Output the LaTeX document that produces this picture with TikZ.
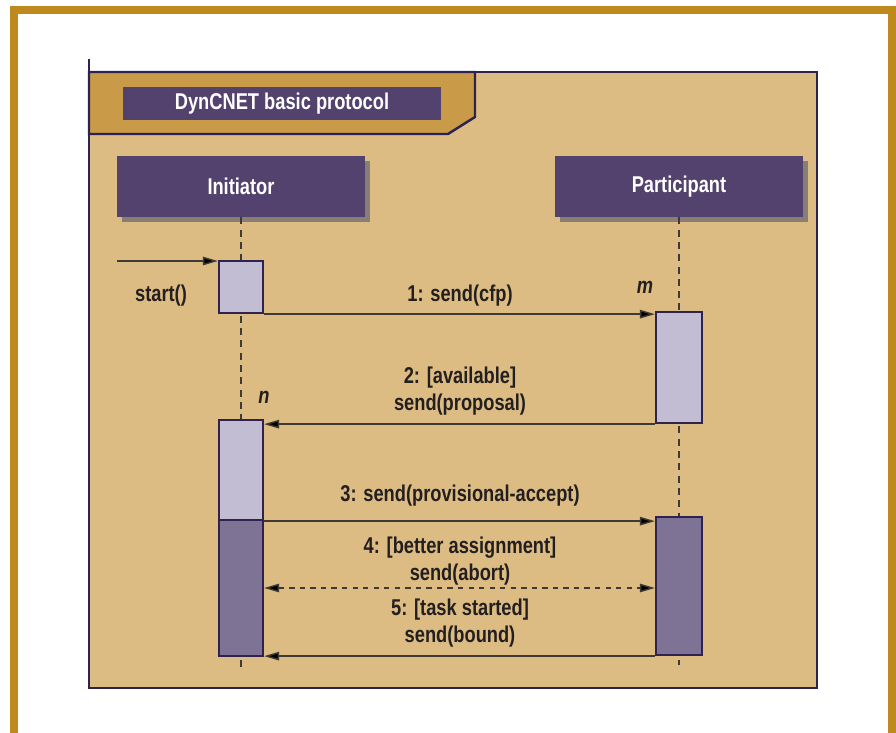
\documentclass[tikz,border=0pt]{standalone}
\usepackage{fontspec}
\setmainfont{Liberation Sans}[FakeStretch=0.8]
\usetikzlibrary{arrows.meta, positioning, shadows}
\definecolor{gold}{HTML}{BE8A1E}
\definecolor{sand}{HTML}{DCBC82}
\definecolor{tab}{HTML}{C99B48}
\definecolor{plum}{HTML}{52426D}
\definecolor{edge}{HTML}{2E2250}
\definecolor{shade}{HTML}{877E75}
\definecolor{lite}{HTML}{C3BDD3}
\definecolor{dark}{HTML}{7E7295}
\definecolor{ink}{HTML}{231F20}
\definecolor{wire}{HTML}{3E3A36}

\begin{document}
\begin{tikzpicture}[x=0.02cm, y=-0.02cm,
          head/.style={fill=plum, text=white, font=\bfseries\fontsize{13}{15}\selectfont,
            minimum width=4.96cm, minimum height=1.22cm, inner sep=0pt,
            drop shadow={shadow xshift=0.1cm, shadow yshift=-0.1cm, fill=shade, opacity=1}},
          act/.style={draw=edge, line width=1.3pt, minimum width=0.88cm, inner sep=0pt},
          lbl/.style={text=ink, font=\bfseries\fontsize{13}{15}\selectfont, align=center, inner sep=1pt},
          life/.style={wire, line width=0.8pt, dash pattern=on 4pt off 3pt},
          tip/.style={Triangle[length=3mm, width=1.7mm, fill=black]},
          ar/.style={wire, line width=0.8pt, -{Triangle[length=3mm, width=1.7mm, fill=black]}}
        ]
        \useasboundingbox (0,0) rectangle (896,733);
        \fill[white] (0,0) rectangle (896,733);
        \draw[gold, line width=8*0.02cm] (14,733) -- (14,10) -- (892,10) -- (892,733);

        \draw[edge, line width=1.4pt, fill=sand] (89,72) rectangle (817,688);
        \draw[edge, line width=1.4pt] (89,59) -- (89,72);
        \draw[edge, line width=1.4pt, fill=tab] (89,72) -- (475,72) -- (475,117) -- (448,134) -- (89,134) -- cycle;
        \node[fill=plum, text=white, font=\bfseries\fontsize{13}{15}\selectfont,
          minimum width=6.38cm, minimum height=0.66cm, inner sep=0pt] (title) at (282,103.5) {DynCNET basic protocol};

        \node[head] (ini) at (241,186.5) {Initiator};
        \node[head] (par) at (679,186.5) {Participant};
        \coordinate (iniend) at (241,672);
        \coordinate (parend) at (679,665);
        \draw[life] (ini.south) -- (iniend);
        \draw[life] (par.south) -- (parend);

        \node[act, fill=lite, minimum height=1.04cm] (s1) at (241,287) {};
        \node[act, fill=lite, minimum width=0.92cm, minimum height=2.22cm] (p1) at (679,367.5) {};
        \node[act, fill=lite, minimum height=2.0cm] (i2) at (241,470) {};
        \node[act, fill=dark, minimum height=2.72cm] (i3) at (241,588) {};
        \node[act, fill=dark, minimum width=0.92cm, minimum height=2.76cm] (p2) at (679,586) {};

        \coordinate (in) at (117,261);
        \draw[ar] (in) -- (in -| s1.west);
        \draw[ar] (s1.south east) -- (s1.south east -| p1.west);
        \draw[ar] (p1.south west) -- (p1.south west -| i2.east);
        \draw[ar] (i2.south east) -- (i2.south east -| p2.west);
        \draw[wire, line width=0.8pt, dashed, {Triangle[length=3mm, width=1.7mm, fill=black]}-{Triangle[length=3mm, width=1.7mm, fill=black]}] (i3.east) -- (i3.east -| p2.west);
        \draw[ar] (p2.south west) -- (p2.south west -| i3.east);

        \node[lbl] (start) at (161,296) {start()};
        \node[lbl] (m1) at (460,296) {1: send(cfp)};
        \node[lbl] (m2) at (460,391) {2: [available]\\send(proposal)};
        \node[lbl] (m3) at (460,496) {3: send(provisional-accept)};
        \node[lbl] (m4) at (460,561) {4: [better assignment]\\send(abort)};
        \node[lbl] (m5) at (460,623) {5: [task started]\\send(bound)};
        \node[lbl, font=\bfseries\itshape\fontsize{13}{15}\selectfont] (mm) at (645,287) {m};
        \node[lbl, font=\bfseries\itshape\fontsize{13}{15}\selectfont] (nn) at (264,397) {n};
      \end{tikzpicture}
\end{document}
